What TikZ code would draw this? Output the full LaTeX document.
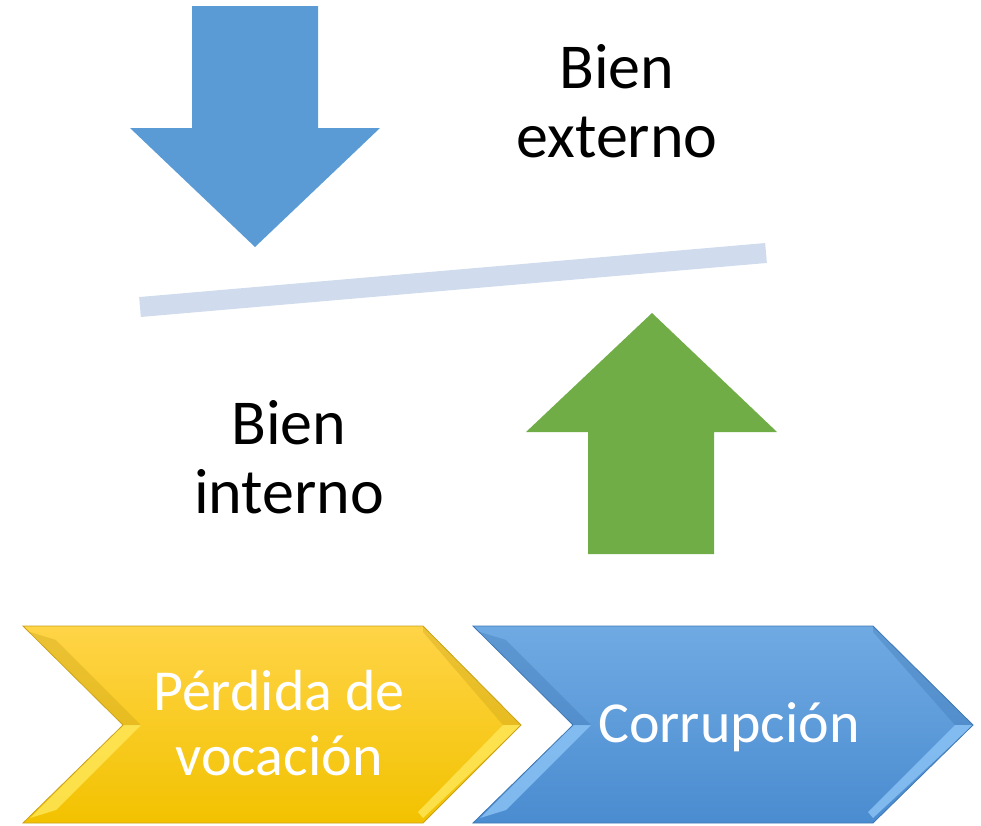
\documentclass[tikz,border=0pt]{standalone}
\usepackage{fontspec}
\setmainfont{Carlito}
\begin{document}
\begin{tikzpicture}[x=1pt,y=-1pt,
  lbl/.style={align=center,font=\fontsize{64}{69}\selectfont,text=black,inner sep=0pt},
  chevtxt/.style={align=center,font=\fontsize{58}{65}\selectfont,text=white,inner sep=0pt}]
\definecolor{arrblue}{HTML}{5B9BD5}
\definecolor{arrgreen}{HTML}{70AD47}
\definecolor{barcol}{HTML}{D0DCEE}
\definecolor{ytop}{HTML}{FFD447}
\definecolor{ybot}{HTML}{F2C200}
\definecolor{yedge}{HTML}{C9A21A}
\definecolor{ylight}{HTML}{FFE85A}
\definecolor{btop}{HTML}{70AAE3}
\definecolor{bbot}{HTML}{4A8CD0}
\definecolor{bedge}{HTML}{3F78B4}
\definecolor{blight}{HTML}{8CC4F5}
\useasboundingbox (0,0) rectangle (981,825);
% down arrow
\fill[arrblue] (192,6) -- (318,6) -- (318,128) -- (380,128) -- (255,247) -- (130,128) -- (192,128) -- cycle;
% bar
\draw[barcol,line width=20pt] (140,307) -- (766,253);
% up arrow
\fill[arrgreen] (652,313) -- (777,432) -- (714,432) -- (714,554) -- (588,554) -- (588,432) -- (526,432) -- cycle;
% labels
\node[lbl] (ext) at (617,101) {Bien\\externo};
\node[lbl] (int) at (289,457) {Bien\\interno};
% yellow chevron
\shade[top color=ytop,bottom color=ybot] (23,626) -- (423,626) -- (521,725) -- (423,823) -- (23,823) -- (123,725) -- cycle;
\fill[ylight,opacity=0.8] (123,725) -- (141,725) -- (56,810) -- (30,818) -- cycle;
\fill[yedge,opacity=0.35] (30,632) -- (56,640) -- (141,725) -- (123,725) -- cycle;
\fill[yedge,opacity=0.35] (423,632) -- (503,725) -- (521,725) -- (423,626) -- cycle;
\fill[ylight,opacity=0.8] (503,725) -- (521,725) -- (423,818) -- (418,812) -- cycle;
\draw[yedge,line width=0.8pt] (23,626) -- (423,626) -- (521,725) -- (423,823) -- (23,823) -- (123,725) -- cycle;
% blue chevron
\shade[top color=btop,bottom color=bbot] (473,626) -- (873,626) -- (973,725) -- (873,823) -- (473,823) -- (573,725) -- cycle;
\fill[blight,opacity=0.8] (573,725) -- (591,725) -- (506,810) -- (480,818) -- cycle;
\fill[bedge,opacity=0.35] (480,632) -- (506,640) -- (591,725) -- (573,725) -- cycle;
\fill[bedge,opacity=0.35] (873,632) -- (955,725) -- (973,725) -- (873,626) -- cycle;
\fill[blight,opacity=0.8] (955,725) -- (973,725) -- (873,818) -- (868,812) -- cycle;
\draw[bedge,line width=0.8pt] (473,626) -- (873,626) -- (973,725) -- (873,823) -- (473,823) -- (573,725) -- cycle;
% chevron texts
\node[chevtxt] (perd) at (279,723) {Pérdida de\\vocación};
\node[chevtxt] (corr) at (729,727) {Corrupción};
\end{tikzpicture}
\end{document}
